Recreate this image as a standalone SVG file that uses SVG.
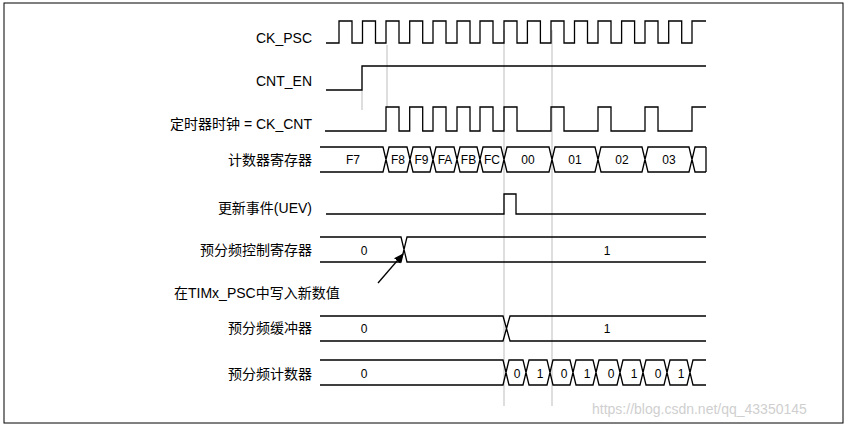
<svg xmlns="http://www.w3.org/2000/svg" width="848" height="427" viewBox="0 0 848 427">
<style>
.w{fill:none;stroke:#000;stroke-width:1.3}
.g{fill:none;stroke:#c8c8c8;stroke-width:1.2}
.l{font-family:"Liberation Sans","Noto Sans CJK SC",sans-serif;font-size:14px;text-anchor:end}
.v{font-family:"Liberation Sans",sans-serif;font-size:12px;text-anchor:middle}
</style>
<defs><marker id="ah" markerWidth="10" markerHeight="10" refX="9" refY="5" orient="auto" markerUnits="userSpaceOnUse"><path d="M0,1 L10,5 L0,9 Z" fill="#000"/></marker></defs>
<rect x="4" y="3" width="839" height="420" fill="#fff" stroke="#000" stroke-width="1"/>
<g id="guides">
<line class="g" x1="362" y1="66" x2="362" y2="110"/>
<line class="g" x1="387" y1="45" x2="387" y2="107"/>
<line class="g" x1="504" y1="30" x2="504" y2="406"/>
<line class="g" x1="552" y1="30" x2="552" y2="406"/>
</g>
<g id="labels">
<text class="l" x="312" y="43">CK_PSC</text>
<text class="l" x="312" y="86">CNT_EN</text>
<text class="l" x="312" y="129">定时器时钟 = CK_CNT</text>
<text class="l" x="312" y="165">计数器寄存器</text>
<text class="l" x="312" y="213">更新事件(UEV)</text>
<text class="l" x="312" y="255">预分频控制寄存器</text>
<text class="l" x="312" y="333">预分频缓冲器</text>
<text class="l" x="312" y="379">预分频计数器</text>
</g>
<g id="ck_psc"><path class="w" d="M326,43 H339 V21 H352 V43 H362.5 V21 H375.5 V43 H386 V21 H399 V43 H409.7 V21 H422.7 V43 H433 V21 H446 V43 H457 V21 H470 V43 H480 V21 H493 V43 H504 V21 H517 V43 H527.4 V21 H540.4 V43 H551 V21 H564 V43 H574.5 V21 H587.5 V43 H598 V21 H611 V43 H621.6 V21 H634.6 V43 H645 V21 H658 V43 H668.7 V21 H681.7 V43 H692 V21 H706"/></g>
<g id="cnt_en"><path class="w" d="M326,90 H362 V66 H706"/></g>
<g id="ck_cnt"><path class="w" d="M325,131 H386 V107 H399 V131 H409.7 V107 H422.7 V131 H433 V107 H446 V131 H457 V107 H470 V131 H480 V107 H493 V131 H504 V107 H517 V131 H551 V107 H564 V131 H598 V107 H611 V131 H645 V107 H658 V131 H692 V107 H706"/></g>
<g id="counter">
<path class="w" d="M320,147 H383 L389,172 H407 L413,147 H430 L436,172 H454 L460,147 H477 L483,172 H501 L507,147 H549 L555,172 H595 L601,147 H642 L648,172 H689 L695,147 H706 M320,172 H383 L389,147 H407 L413,172 H430 L436,147 H454 L460,172 H477 L483,147 H501 L507,172 H549 L555,147 H595 L601,172 H642 L648,147 H689 L695,172 H706 M706,147 V172"/>
<text class="v" x="353" y="164">F7</text><text class="v" x="398" y="164">F8</text><text class="v" x="421.5" y="164">F9</text><text class="v" x="445" y="164">FA</text><text class="v" x="468.5" y="164">FB</text><text class="v" x="492" y="164">FC</text><text class="v" x="528" y="164">00</text><text class="v" x="575" y="164">01</text><text class="v" x="622" y="164">02</text><text class="v" x="669" y="164">03</text>
</g>
<g id="uev"><path class="w" d="M326,214 H504 V194 H516 V214 H706"/></g>
<g id="psc_ctrl">
<path class="w" d="M320,237 H401 L407,262 H706 M320,262 H401 L407,237 H706"/>
<text class="v" x="364" y="255">0</text><text class="v" x="607" y="255">1</text>
</g>
<g id="note">
<line class="w" x1="378" y1="283" x2="403" y2="254" marker-end="url(#ah)"/>
<text class="l" x="374" y="298" style="text-anchor:start" transform="translate(-200,0)">在TIMx_PSC中写入新数值</text>
</g>
<g id="psc_buf">
<path class="w" d="M320,316 H503 L510,341 H706 M320,341 H503 L510,316 H706"/>
<text class="v" x="364" y="333">0</text><text class="v" x="607" y="333">1</text>
</g>
<g id="psc_cnt">
<path class="w" d="M320,360 H503 L509,385 H523 L529,360 H547 L553,385 H570 L576,360 H593 L599,385 H617 L623,360 H640 L646,385 H664 L670,360 H687 L693,385 H706 M320,385 H503 L509,360 H523 L529,385 H547 L553,360 H570 L576,385 H593 L599,360 H617 L623,385 H640 L646,360 H664 L670,385 H687 L693,360 H706"/>
<text class="v" x="364" y="378">0</text><text class="v" x="517" y="378">0</text><text class="v" x="540" y="378">1</text><text class="v" x="564" y="378">0</text><text class="v" x="587" y="378">1</text><text class="v" x="611" y="378">0</text><text class="v" x="634" y="378">1</text><text class="v" x="658" y="378">0</text><text class="v" x="681" y="378">1</text>
</g>
<text x="592" y="414" style="font-family:'Liberation Sans',sans-serif;font-size:14px;fill:#cfcfcf">https://blog.csdn.net/qq_43350145</text>
</svg>
